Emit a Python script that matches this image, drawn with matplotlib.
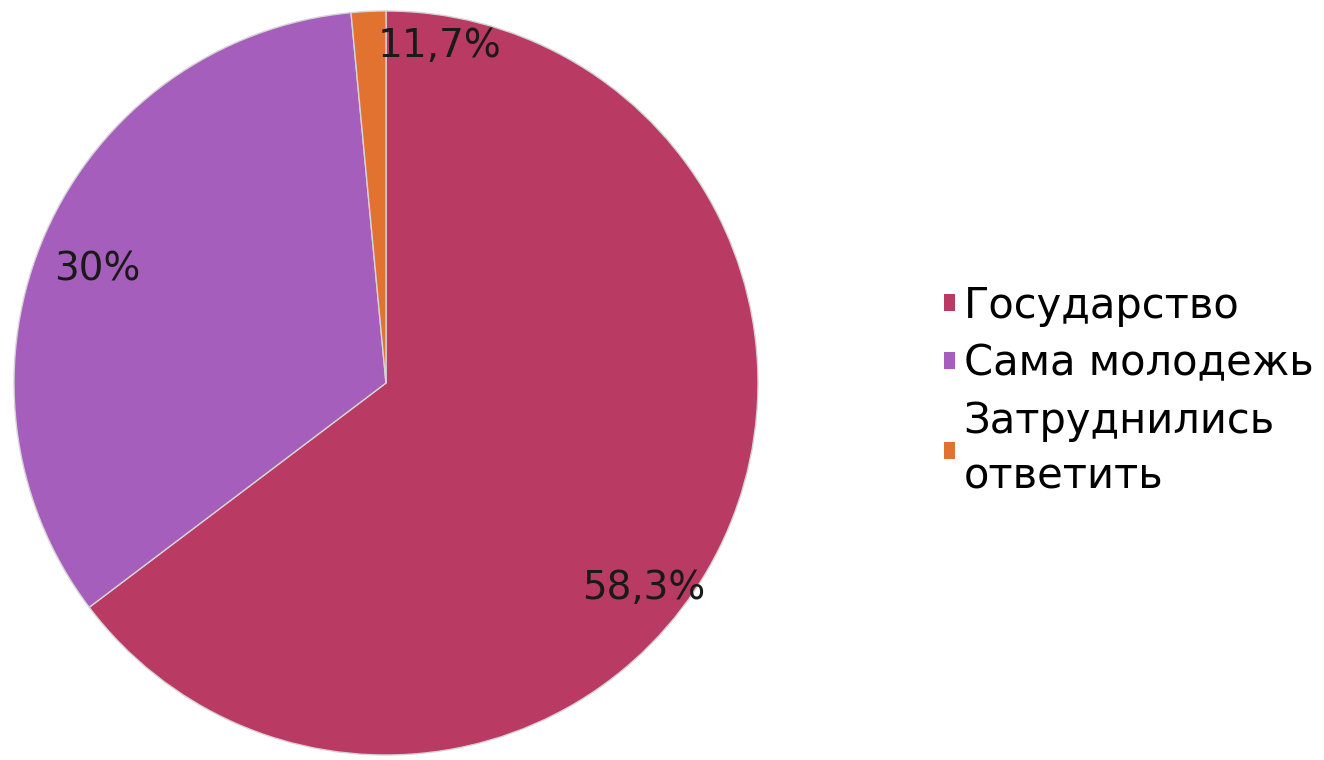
import matplotlib.pyplot as plt
from matplotlib.patches import Patch

# data
categories = ['Государство', 'Сама молодежь', 'Затруднились\nответить']
shares = [64.7, 33.8, 1.5]          # slice sizes as drawn
pct_labels = ['58,3%', '30%', '11,7%']   # labels as printed on the chart
colors = ['#B93A63', '#A55EBB', '#E2722F']

plt.rcParams['font.family'] = ['DejaVu Sans']

fig = plt.figure(figsize=(13.24, 7.6), dpi=100)
ax = fig.add_axes([14/1324, 5/760, 744/1324, 744/760])

wedges, _ = ax.pie(shares, colors=colors, startangle=90, counterclock=False,
                   radius=1, wedgeprops=dict(edgecolor='#d4d4d4', linewidth=1))
ax.set_xlim(-1, 1)
ax.set_ylim(-1, 1)
ax.set_aspect('equal')
ax.axis('off')

# label spots (data coords inside the pie)
spots = [(0.692, -0.55), (-0.777, 0.305), (0.145, 0.905)]
for (x, y), t in zip(spots, pct_labels):
    ax.text(x, y, t, ha='center', va='center', fontsize=28, color='#1a1a1a')

handles = [Patch(facecolor=c, edgecolor='none') for c in colors]
leg = fig.legend(handles, categories, loc='center left', bbox_to_anchor=(944/1324, 1 - 391/760),
                 frameon=False, fontsize=30, handlelength=0.27, handleheight=0.27,
                 handletextpad=0.2, labelspacing=0.38, borderpad=0, borderaxespad=0)
for t in leg.get_texts():
    t.set_linespacing(1.4)

fig.savefig('out.png', dpi=100)
